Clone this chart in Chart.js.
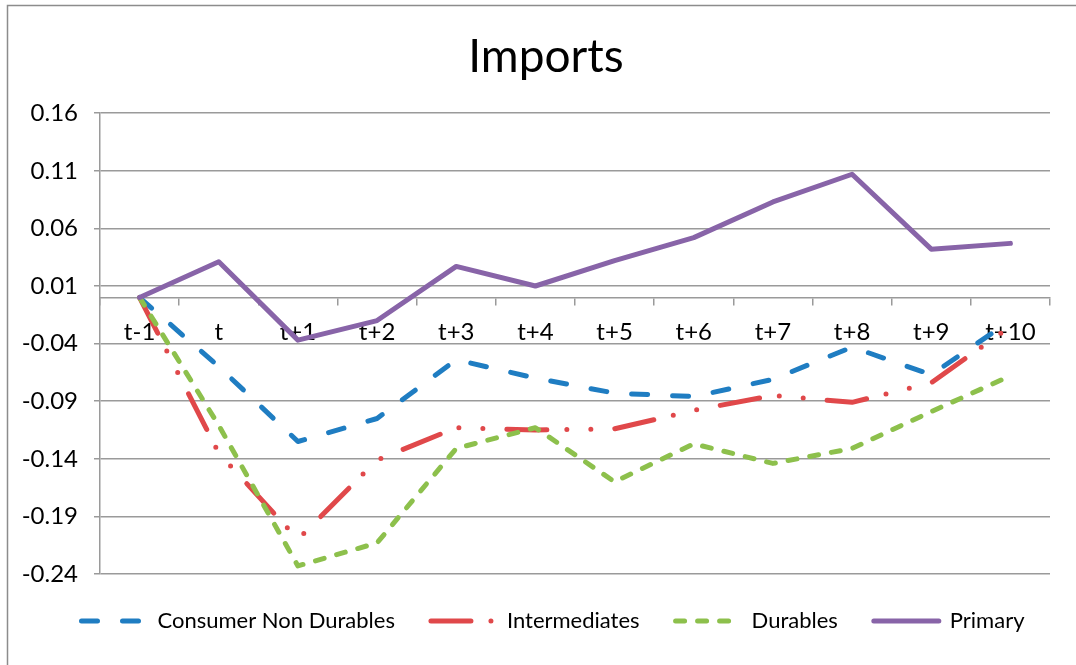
<!DOCTYPE html>
<html><head><meta charset="utf-8">
<script src="https://cdn.jsdelivr.net/npm/chart.js@4.4.0/dist/chart.umd.min.js"></script>
<style>html,body{margin:0;padding:0;background:#fff;overflow:hidden}#wrap{width:1076px;height:665px;position:relative}</style>
</head><body><div id="wrap"><canvas id="c" width="1076" height="665"></canvas></div>
<script>
const categories = ['t-1','t','t+1','t+2','t+3','t+4','t+5','t+6','t+7','t+8','t+9','t+10'];
const consumerNonDurables = [0, -0.060, -0.125, -0.105, -0.054, -0.070, -0.083, -0.086, -0.071, -0.043, -0.067, -0.020];
const intermediates = [0, -0.135, -0.210, -0.141, -0.113, -0.115, -0.114, -0.098, -0.085, -0.091, -0.074, -0.025];
const durables = [0, -0.111, -0.233, -0.213, -0.131, -0.113, -0.160, -0.127, -0.144, -0.131, -0.099, -0.068];
const primary = [0, 0.031, -0.037, -0.020, 0.027, 0.010, 0.032, 0.052, 0.083, 0.107, 0.042, 0.047];
const yTicks = [-0.24, -0.19, -0.14, -0.09, -0.04, 0.01, 0.06, 0.11, 0.16];

const FONT = 'Lato, "Open Sans", sans-serif';
const GRID = '#9a9a9a';

const frame = {
  id: 'frame',
  afterLayout(chart) {
    if (chart.titleBlock) { chart.titleBlock.left += 21; chart.titleBlock.right += 21; }
    if (chart.legend) { chart.legend.left += 28; chart.legend.right += 28; }
  },
  beforeDraw(chart) {
    const ctx = chart.ctx;
    ctx.save();
    ctx.fillStyle = '#fff';
    ctx.fillRect(0, 0, chart.width, chart.height);
    ctx.strokeStyle = '#8c8c8c';
    ctx.lineWidth = 1.5;
    ctx.strokeRect(7.5, 5.5, chart.width + 20, chart.height + 20);
    ctx.restore();
  }
};

function ds(label, data, color, dash, order) {
  return {
    label, data, order,
    borderColor: color, backgroundColor: color,
    borderWidth: 5, borderDash: dash, borderCapStyle: 'round', borderJoinStyle: 'round',
    pointRadius: 0, pointHoverRadius: 0, tension: 0, fill: false
  };
}

new Chart(document.getElementById('c'), {
  type: 'line',
  data: {
    labels: categories,
    datasets: [
      ds('Consumer Non Durables', consumerNonDurables, '#1f7dc2', [16, 25], 4),
      ds('Intermediates', intermediates, '#e0484a', [40, 20, 0, 24, 0, 24], 3),
      ds('Durables', durables, '#8dc04c', [9, 13], 2),
      ds('Primary', primary, '#8864a8', [], 1)
    ]
  },
  plugins: [frame],
  options: {
    responsive: false,
    devicePixelRatio: 1,
    animation: false,
    layout: { padding: { left: 0, right: 26, top: 0, bottom: 23 } },
    plugins: {
      title: {
        display: true, text: 'Imports', color: '#000',
        font: { family: FONT, size: 46, weight: 'normal' },
        padding: { top: 30, bottom: 28 }
      },
      legend: {
        position: 'bottom',
        labels: {
          usePointStyle: true, pointStyle: 'line', pointStyleWidth: 65,
          color: '#000', padding: 36,
          font: { family: FONT, size: 22 },
          generateLabels(chart) {
            const items = Chart.defaults.plugins.legend.labels.generateLabels(chart);
            return items.map(it => {
              const d = chart.data.datasets[it.datasetIndex];
              return Object.assign(it, {
                lineDash: d.borderDash, lineWidth: d.borderWidth, lineCap: 'round',
                strokeStyle: d.borderColor, fillStyle: d.borderColor, pointStyle: 'line'
              });
            }).sort((a, b) => a.datasetIndex - b.datasetIndex);
          }
        }
      },
      tooltip: { enabled: false }
    },
    scales: {
      x: {
        type: 'category',
        position: { y: 0 },
        offset: true,
        grid: { display: true, drawOnChartArea: false, drawTicks: true, tickLength: 7, offset: true, color: GRID, lineWidth: 1.5 },
        border: { display: true, color: GRID, width: 1.5 },
        ticks: { color: '#000', font: { family: FONT, size: 24 }, padding: 13, autoSkip: false, maxRotation: 0, minRotation: 0 }
      },
      y: {
        min: -0.24, max: 0.16,
        afterBuildTicks(scale) { scale.ticks = yTicks.map(v => ({ value: v })); },
        afterFit(scale) { scale.width = 100; },
        grid: { color: GRID, lineWidth: 1.5, tickLength: 6 },
        border: { display: true, color: GRID, width: 1.5 },
        ticks: { color: '#000', font: { family: FONT, size: 24 }, padding: 16, callback: v => Number(v).toFixed(2) }
      }
    }
  }
});
</script></body></html>
